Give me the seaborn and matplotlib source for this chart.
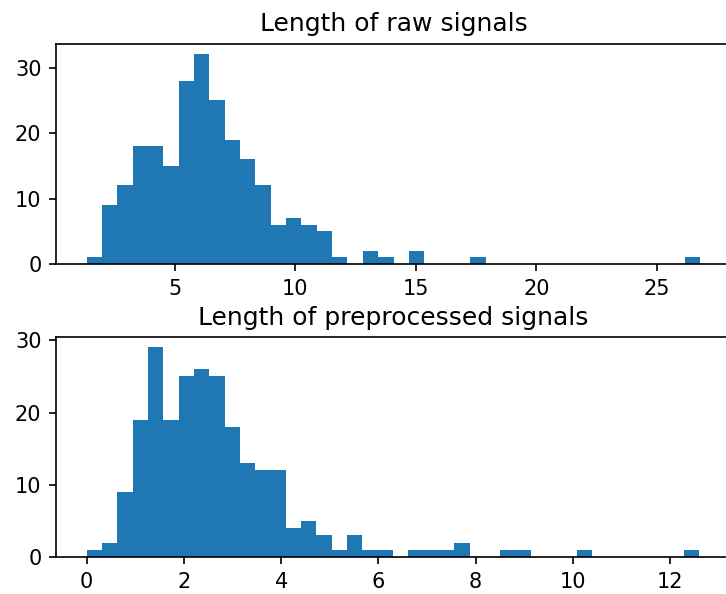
import matplotlib
matplotlib.use("Agg")
from matplotlib import pyplot as plt
import seaborn as sns
import numpy as np
import pandas as pd

# counts per bin (40 bins each)
raw_counts = [1, 9, 12, 18, 18, 15, 28, 32, 25, 19,
              16, 12, 6, 7, 6, 5, 1, 0, 2, 1,
              0, 2, 0, 0, 0, 1, 0, 0, 0, 0,
              0, 0, 0, 0, 0, 0, 0, 0, 0, 1]
raw_range = (1.35, 26.8)

pre_counts = [1, 2, 9, 19, 29, 19, 25, 26, 25, 18,
              13, 12, 12, 4, 5, 3, 1, 3, 1, 1,
              0, 1, 1, 1, 2, 0, 0, 1, 1, 0,
              0, 0, 1, 0, 0, 0, 0, 0, 0, 1]
pre_range = (0.0, 12.6)

titles = ["Length of raw signals", "Length of preprocessed signals"]

# the reference looks like a 1.5x screenshot, so scale text and lines
s = 1.5
plt.rcParams.update({
    "font.size": 10 * s,
    "axes.titlesize": 12 * s,
    "axes.titlepad": 6 * s,
    "axes.linewidth": 0.8 * s,
    "xtick.major.size": 3.5 * s,
    "ytick.major.size": 3.5 * s,
    "xtick.major.width": 0.8 * s,
    "ytick.major.width": 0.8 * s,
    "xtick.major.pad": 3.5 * s,
    "ytick.major.pad": 3.5 * s,
})


def to_frame(counts, rng):
    edges = np.linspace(rng[0], rng[1], len(counts) + 1)
    centers = (edges[:-1] + edges[1:]) / 2
    return pd.DataFrame({"length": centers, "n": counts})


fig = plt.figure(figsize=(7.26, 5.94), dpi=100)
ax1 = fig.add_axes([56 / 726, 1 - 264 / 594, 675 / 726, 220 / 594])
ax2 = fig.add_axes([56 / 726, 1 - 557 / 594, 674 / 726, 220 / 594])

for ax, counts, rng, title in zip([ax1, ax2], [raw_counts, pre_counts],
                                  [raw_range, pre_range], titles):
    df = to_frame(counts, rng)
    sns.histplot(data=df, x="length", weights="n", bins=len(counts),
                 binrange=rng, ax=ax, color="#1f77b4", alpha=1, linewidth=0)
    ax.set_title(title)
    ax.set_xlabel("")
    ax.set_ylabel("")
    ax.margins(x=0.05, y=0.05)
    ax.set_ylim(0, max(counts) * 1.05)

ax1.set_xticks([5, 10, 15, 20, 25])
ax1.set_yticks([0, 10, 20, 30])
ax2.set_xticks([0, 2, 4, 6, 8, 10, 12])
ax2.set_yticks([0, 10, 20, 30])

fig.savefig("out.png", dpi=100)
